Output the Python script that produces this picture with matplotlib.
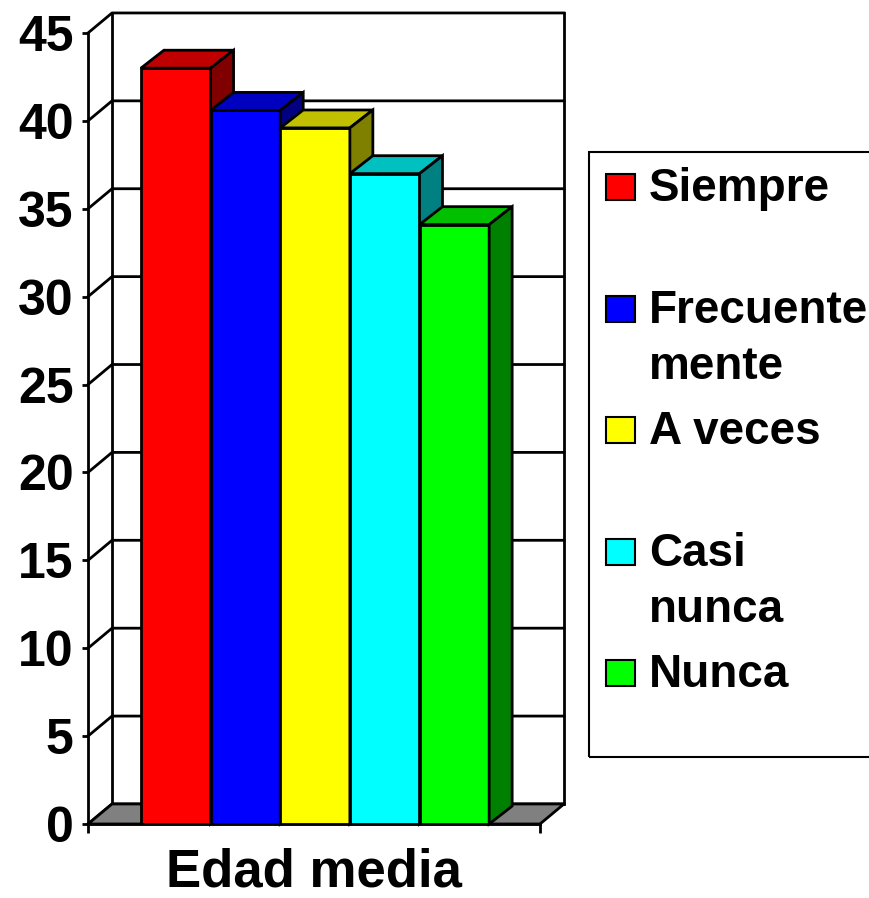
import matplotlib.pyplot as plt
from matplotlib.patches import Polygon, Rectangle

plt.rcParams['font.family'] = ['Liberation Sans', 'DejaVu Sans']
plt.rcParams['font.weight'] = 'bold'

# data
categoria = "Edad media"
respuestas = ["Siempre", "Frecuente\nmente", "A veces", "Casi\nnunca", "Nunca"]
edad_media = [43.0, 40.6, 39.6, 37.0, 34.1]
y_ticks = [0, 5, 10, 15, 20, 25, 30, 35, 40, 45]

# colours of the front, top and side faces
frente = ["#FF0000", "#0000FF", "#FFFF00", "#00FFFF", "#00FF00"]
arriba = ["#C00000", "#0000C0", "#C0C000", "#00C0C0", "#00C000"]
lado = ["#800000", "#000080", "#808000", "#008080", "#008000"]

W, H = 869, 898
fig = plt.figure(figsize=(W / 100, H / 100), dpi=100)
ax = fig.add_axes([88 / W, 74 / H, 452 / W, 791 / H])


def px(x, y):
    # pixel position (from top left) -> figure fraction
    return x / W, 1 - y / H


x0, x1 = -0.76, 5.73
ymax = y_ticks[-1]
# depth of the box and of the bars, in data units
dx, dy = 0.345, 1.14
bdx, bdy = 0.33, 1.02
lw = 2.0

ax.set_xlim(x0, x1)
ax.set_ylim(0, ymax)

# back wall with the grid
for v in y_ticks:
    ax.plot([x0, x0 + dx, x1 + dx], [v, v + dy, v + dy], color='black',
            lw=lw, clip_on=False, zorder=1, solid_joinstyle='miter')
for xx in [x0 + dx, x1 + dx]:
    ax.plot([xx, xx], [dy, ymax + dy], color='black', lw=lw,
            clip_on=False, zorder=1)

# floor
ax.add_patch(Polygon([[x0, 0], [x1, 0], [x1 + dx, dy], [x0 + dx, dy]],
                     closed=True, fc='#808080', ec='black', lw=lw,
                     clip_on=False, zorder=2))

# bars: front with ax.bar, top and side drawn as polygons
bars = ax.bar(range(len(edad_media)), edad_media, width=1, align='edge',
              color=frente, edgecolor='black', linewidth=lw)
for i, v in enumerate(edad_media):
    l, r = i, i + 1
    bars[i].set_zorder(3 + i)
    ax.add_patch(Polygon([[l, v], [r, v], [r + bdx, v + bdy], [l + bdx, v + bdy]],
                         closed=True, fc=arriba[i], ec='black', lw=lw,
                         clip_on=False, zorder=3 + i))
    ax.add_patch(Polygon([[r, 0], [r + bdx, bdy], [r + bdx, v + bdy], [r, v]],
                         closed=True, fc=lado[i], ec='black', lw=lw,
                         clip_on=False, zorder=3 + i))

for s in ['top', 'right']:
    ax.spines[s].set_visible(False)
for s in ['left', 'bottom']:
    ax.spines[s].set_linewidth(lw)
    ax.spines[s].set_zorder(2.5)

ax.set_yticks(y_ticks)
ax.tick_params(axis='y', direction='out', length=4.5, width=lw,
               labelsize=36, pad=6)
ax.set_xticks([x0, x1])
ax.set_xticklabels(['', ''])
ax.tick_params(axis='x', direction='out', length=6.5, width=lw)
ax.set_xlabel(categoria, fontsize=38, fontweight='bold', labelpad=7)

# legend drawn by hand, entries are 121.6 px apart, lines 56 px apart
fig.patches.append(Rectangle(px(589, 757), 300 / W, (757 - 152) / H,
                             transform=fig.transFigure, fill=False,
                             ec='black', lw=1.5))
for i, nombre in enumerate(respuestas):
    yc = 187 + 121.6 * i
    fig.patches.append(Rectangle(px(606, yc + 13), 29 / W, 26 / H,
                                 transform=fig.transFigure, fc=frente[i],
                                 ec='black', lw=1.5))
    for k, linea in enumerate(nombre.split('\n')):
        x, y = px(649, yc + 14 + 56 * k)
        fig.text(x, y, linea, fontsize=33, fontweight='bold',
                 va='baseline', ha='left')

fig.savefig('out.png', dpi=100)
